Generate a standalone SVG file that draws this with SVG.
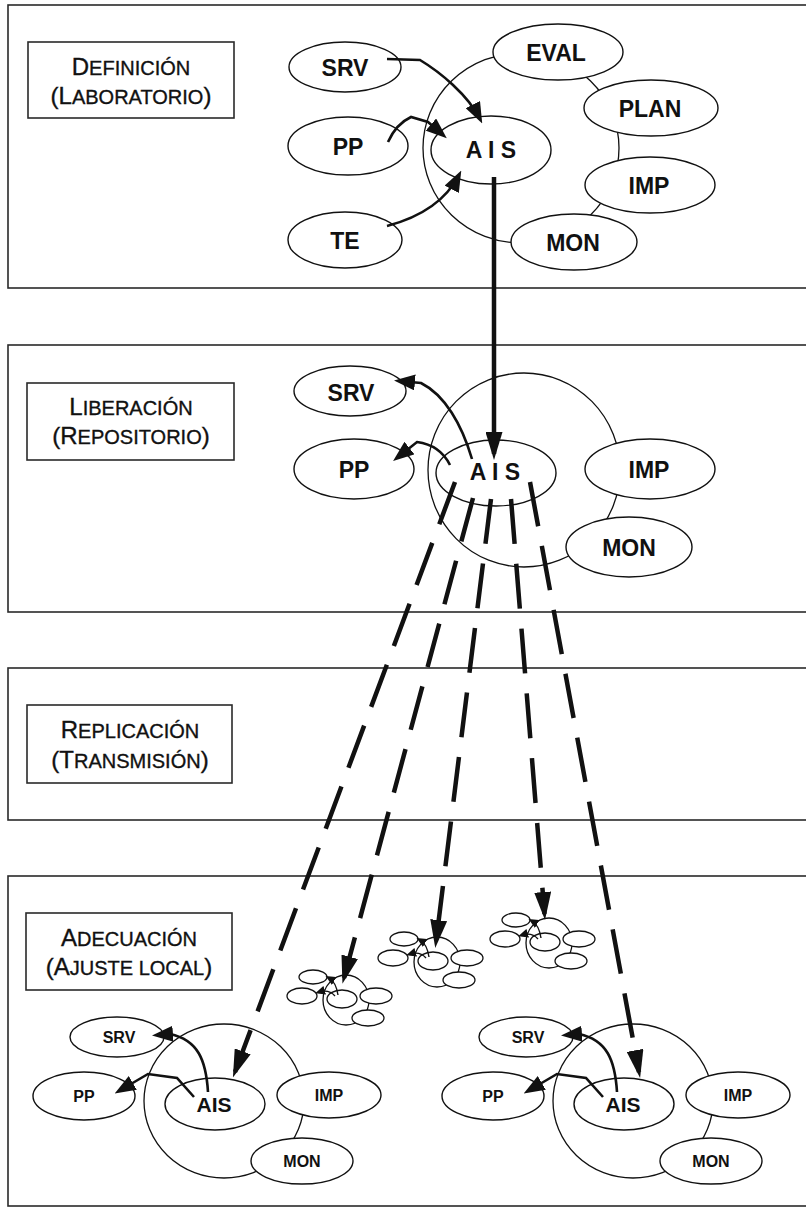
<svg xmlns="http://www.w3.org/2000/svg" xmlns:xlink="http://www.w3.org/1999/xlink" width="806" height="1210" viewBox="0 0 806 1210">
<style>
.sec{fill:none;stroke:#2a2a2a;stroke-width:1.6}
.lbl{fill:#fff;stroke:#2a2a2a;stroke-width:1.6}
.nd{fill:#fff;stroke:#111;stroke-width:1.4}
.ring{fill:none;stroke:#111;stroke-width:1.3}
.t1{font-family:"Liberation Sans",Arial,sans-serif;font-weight:bold;font-size:23px;text-anchor:middle;fill:#111}
.t2{font-family:"Liberation Sans",Arial,sans-serif;font-weight:bold;font-size:16px;text-anchor:middle;fill:#111}
.t3{font-family:"Liberation Sans",Arial,sans-serif;font-weight:bold;font-size:21px;text-anchor:middle;fill:#111}
.cap{font-family:"Liberation Sans",Arial,sans-serif;font-size:20px;text-anchor:middle;fill:#111;stroke:#111;stroke-width:0.35}
.big{font-size:24px}
.arr{fill:none;stroke:#111;stroke-width:2.6;marker-end:url(#ah)}
.main{fill:none;stroke:#111;stroke-width:4.5;marker-end:url(#ahL)}
.dash{fill:none;stroke:#111;stroke-width:4.5;stroke-dasharray:45 20;marker-end:url(#ahL)}
.marr{fill:none;stroke:#111;stroke-width:1.4;marker-end:url(#ahS)}
.mnd{fill:#fff;stroke:#111;stroke-width:1.3}
.mring{fill:none;stroke:#111;stroke-width:1.3}
</style>
<defs>
<marker id="ah" viewBox="0 0 21 16" markerWidth="21" markerHeight="16" refX="16" refY="8" orient="auto" markerUnits="userSpaceOnUse"><path d="M0,0 L21,8 L0,16 z" fill="#111"/></marker>
<marker id="ahL" viewBox="0 0 28 17" markerWidth="28" markerHeight="17" refX="22" refY="8.5" orient="auto" markerUnits="userSpaceOnUse"><path d="M0,0 L28,8.5 L0,17 z" fill="#111"/></marker>
<marker id="ahS" viewBox="0 0 10 9" markerWidth="10" markerHeight="9" refX="6" refY="4.5" orient="auto" markerUnits="userSpaceOnUse"><path d="M0,0 L10,4.5 L0,9 z" fill="#111"/></marker>
<g id="mini">
<ellipse class="mring" cx="4" cy="1" rx="23" ry="25"/>
<ellipse class="mnd" cx="-29" cy="-22" rx="14" ry="7"/>
<ellipse class="mnd" cx="-40" cy="-3" rx="15" ry="8"/>
<ellipse class="mnd" cx="0" cy="0" rx="15" ry="9"/>
<ellipse class="mnd" cx="34" cy="-3" rx="16" ry="8"/>
<ellipse class="mnd" cx="26" cy="19" rx="16" ry="8"/>
<path class="marr" d="M-4,-4 Q-6,-17 -13,-21"/>
<path class="marr" d="M-7,-3 Q-13,-10 -23,-7"/>
</g>
</defs>
<rect x="0" y="0" width="806" height="1210" fill="#fff"/>

<g id="sections">
<rect class="sec" x="8" y="5" width="810" height="283"/>
<rect class="sec" x="8" y="345" width="810" height="267"/>
<rect class="sec" x="8" y="668" width="810" height="152"/>
<rect class="sec" x="8" y="876" width="810" height="330"/>
</g>

<g id="label-definicion">
<rect class="lbl" x="28" y="42" width="206" height="76"/>
<text class="cap" x="131" y="75"><tspan class="big">D</tspan>EFINICIÓN</text>
<text class="cap" x="131" y="104"><tspan class="big">(L</tspan>ABORATORIO<tspan class="big">)</tspan></text>
</g>
<g id="label-liberacion">
<rect class="lbl" x="27" y="383" width="207" height="77"/>
<text class="cap" x="131" y="415"><tspan class="big">L</tspan>IBERACIÓN</text>
<text class="cap" x="131" y="444"><tspan class="big">(R</tspan>EPOSITORIO<tspan class="big">)</tspan></text>
</g>
<g id="label-replicacion">
<rect class="lbl" x="27" y="705" width="205" height="78"/>
<text class="cap" x="130" y="738"><tspan class="big">R</tspan>EPLICACIÓN</text>
<text class="cap" x="130" y="768"><tspan class="big">(T</tspan>RANSMISIÓN<tspan class="big">)</tspan></text>
</g>
<g id="label-adecuacion">
<rect class="lbl" x="26" y="913" width="206" height="77"/>
<text class="cap" x="129" y="946"><tspan class="big">A</tspan>DECUACIÓN</text>
<text class="cap" x="129" y="975"><tspan class="big">(A</tspan>JUSTE LOCAL<tspan class="big">)</tspan></text>
</g>

<!-- Section 1 -->
<g id="s1-ring"><ellipse class="ring" cx="521" cy="148" rx="98" ry="95"/></g>
<g id="s1-srv"><ellipse class="nd" cx="345" cy="67" rx="56" ry="25"/><text class="t1" x="345" y="76">SRV</text></g>
<g id="s1-pp"><ellipse class="nd" cx="348" cy="146" rx="60" ry="29"/><text class="t1" x="348" y="155">PP</text></g>
<g id="s1-te"><ellipse class="nd" cx="345" cy="240" rx="57" ry="28"/><text class="t1" x="345" y="249">TE</text></g>
<g id="s1-ais"><ellipse class="nd" cx="491" cy="150" rx="60" ry="34"/><text class="t1" x="491" y="158">A I S</text></g>
<g id="s1-eval"><ellipse class="nd" cx="558" cy="52" rx="65" ry="28"/><text class="t1" x="556" y="61">EVAL</text></g>
<g id="s1-plan"><ellipse class="nd" cx="651" cy="108" rx="67" ry="28"/><text class="t1" x="650" y="117">PLAN</text></g>
<g id="s1-imp"><ellipse class="nd" cx="650" cy="185" rx="65" ry="28"/><text class="t1" x="649" y="194">IMP</text></g>
<g id="s1-mon"><ellipse class="nd" cx="574" cy="242" rx="63" ry="28"/><text class="t1" x="573" y="251">MON</text></g>

<!-- Section 2 -->
<g id="s2-ring"><ellipse class="ring" cx="524" cy="470" rx="96" ry="97"/></g>
<g id="s2-srv"><ellipse class="nd" cx="350" cy="391" rx="56" ry="25"/><text class="t1" x="351" y="401">SRV</text></g>
<g id="s2-pp"><ellipse class="nd" cx="354" cy="469" rx="60" ry="30"/><text class="t1" x="354" y="478">PP</text></g>
<g id="s2-ais"><ellipse class="nd" cx="496" cy="473" rx="60" ry="33"/><text class="t1" x="495" y="480">A I S</text></g>
<g id="s2-imp"><ellipse class="nd" cx="650" cy="469" rx="65" ry="30"/><text class="t1" x="649" y="478">IMP</text></g>
<g id="s2-mon"><ellipse class="nd" cx="629" cy="547" rx="63" ry="30"/><text class="t1" x="629" y="556">MON</text></g>

<!-- Section 4 left -->
<g id="s4l-ring"><ellipse class="ring" cx="224" cy="1101" rx="80" ry="77"/></g>
<g id="s4l-srv"><ellipse class="nd" cx="117" cy="1037" rx="47" ry="20"/><text class="t2" x="119" y="1043">SRV</text></g>
<g id="s4l-pp"><ellipse class="nd" cx="84" cy="1096" rx="51" ry="24"/><text class="t2" x="84" y="1102">PP</text></g>
<g id="s4l-ais"><ellipse class="nd" cx="215" cy="1104" rx="50" ry="26"/><text class="t3" x="214" y="1112">AIS</text></g>
<g id="s4l-imp"><ellipse class="nd" cx="329" cy="1095" rx="52" ry="23"/><text class="t2" x="329" y="1101">IMP</text></g>
<g id="s4l-mon"><ellipse class="nd" cx="302" cy="1161" rx="51" ry="23"/><text class="t2" x="302" y="1167">MON</text></g>

<!-- Section 4 right -->
<g id="s4r-ring"><ellipse class="ring" cx="633" cy="1101" rx="80" ry="77"/></g>
<g id="s4r-srv"><ellipse class="nd" cx="526" cy="1037" rx="47" ry="20"/><text class="t2" x="528" y="1043">SRV</text></g>
<g id="s4r-pp"><ellipse class="nd" cx="493" cy="1096" rx="51" ry="24"/><text class="t2" x="493" y="1102">PP</text></g>
<g id="s4r-ais"><ellipse class="nd" cx="624" cy="1104" rx="50" ry="26"/><text class="t3" x="623" y="1112">AIS</text></g>
<g id="s4r-imp"><ellipse class="nd" cx="738" cy="1095" rx="52" ry="23"/><text class="t2" x="738" y="1101">IMP</text></g>
<g id="s4r-mon"><ellipse class="nd" cx="711" cy="1161" rx="51" ry="23"/><text class="t2" x="711" y="1167">MON</text></g>

<!-- Mini clusters -->
<g id="mini1"><use xlink:href="#mini" href="#mini" transform="translate(342,999)"/></g>
<g id="mini2"><use xlink:href="#mini" href="#mini" transform="translate(433,961)"/></g>
<g id="mini3"><use xlink:href="#mini" href="#mini" transform="translate(545,942)"/></g>

<g id="connectors">
<path class="arr" d="M387,59 L420,60 C440,72 468,95 480,119"/>
<path class="arr" d="M388,142 Q396,124 411,117 L428,122 L443,135"/>
<path class="arr" d="M387,226 Q440,212 459,175"/>
<path class="main" d="M494,177 L494,454"/>
<path class="arr" d="M472,459 C462,425 445,395 421,383 L399,381"/>
<path class="arr" d="M450,465 Q440,445 417,442 L397,458"/>
<path class="dash" d="M455,482 L235,1072"/>
<path class="dash" d="M473,498 L344,978"/>
<path class="dash" d="M491,499 L436,942"/>
<path class="dash" d="M511,499 L544.5,914"/>
<path class="dash" d="M530,482 L639,1072"/>
<path class="arr" d="M208,1092 C206,1060 198,1040 170,1034 L157,1035"/>
<path class="arr" d="M194,1097 L177,1078 L148,1074 L119,1091"/>
<path class="arr" d="M617,1092 C615,1060 607,1040 579,1034 L566,1035"/>
<path class="arr" d="M603,1097 L586,1078 L557,1074 L528,1091"/>
</g>
</svg>
